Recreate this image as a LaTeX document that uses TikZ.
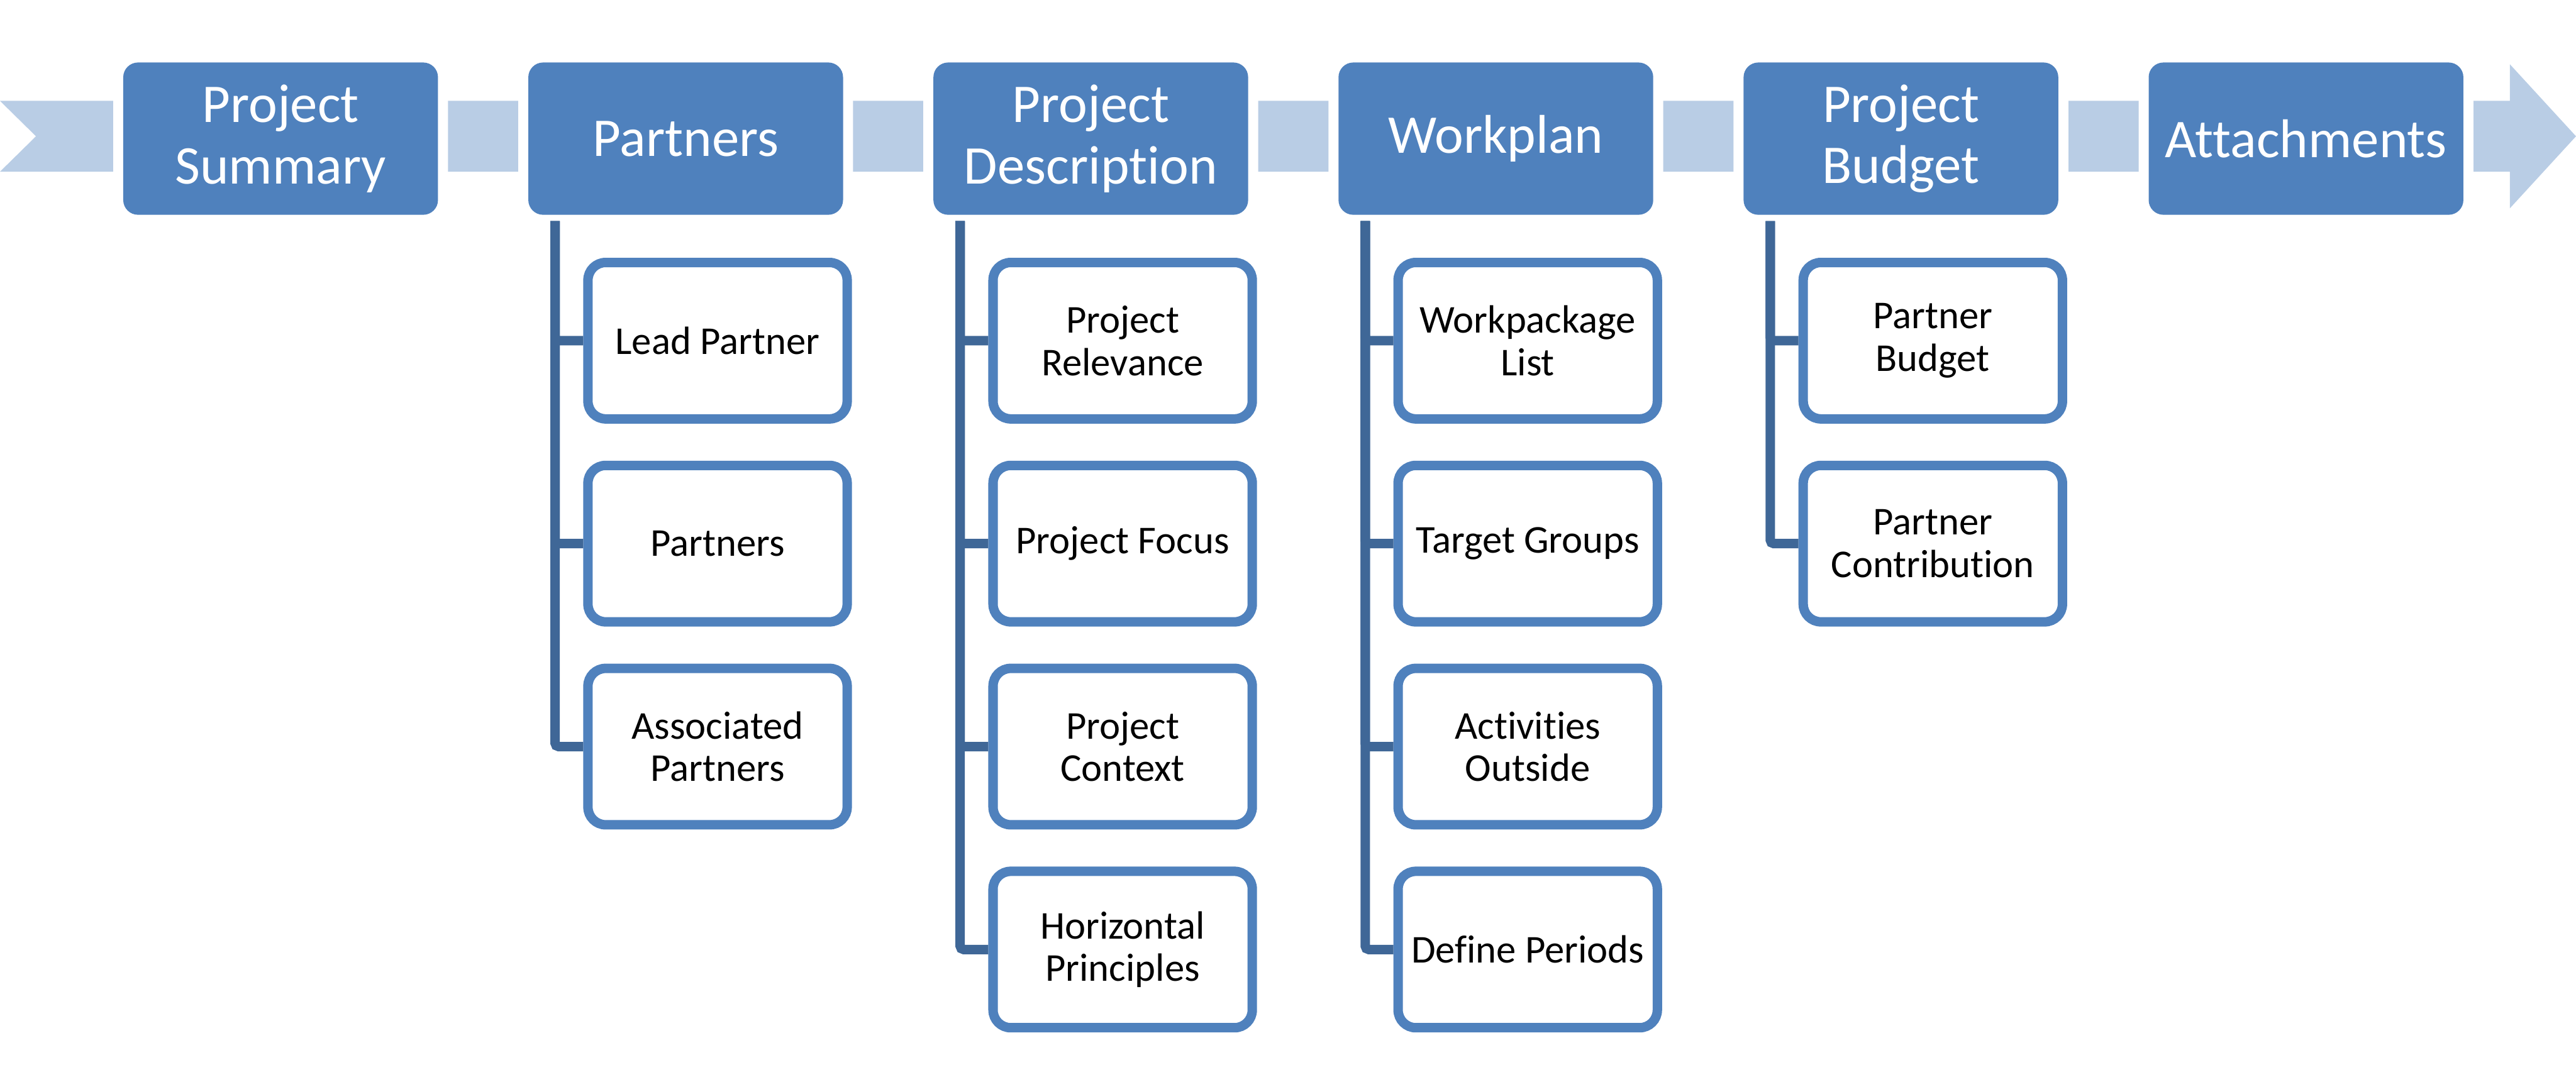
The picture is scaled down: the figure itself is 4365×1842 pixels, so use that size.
\documentclass[tikz,border=0pt]{standalone}
\usepackage{fontspec}
\setmainfont[Ligatures=NoCommon]{Carlito}
\usetikzlibrary{calc}
\definecolor{boxblue}{HTML}{4F81BD}
\definecolor{bandblue}{HTML}{B9CDE5}
\definecolor{linkblue}{HTML}{3F6797}
\begin{document}
\begin{tikzpicture}[x=0.01cm,y=-0.01cm,
  topbox/.style={rounded corners=0.25cm, fill=boxblue, text=white, minimum width=5.33cm, minimum height=2.58cm, inner sep=0pt, align=center, font=\fontsize{26.3pt}{29.5pt}\selectfont, preaction={draw=white, line width=0.34cm}},
  subbox/.style={rounded corners=0.3cm, draw=boxblue, line width=0.16cm, fill=white, minimum width=4.39cm, minimum height=2.65cm, inner sep=0pt, align=center, font=\fontsize{19pt}{20.5pt}\selectfont},
  link/.style={draw=linkblue, line width=0.16cm, rounded corners=0.06cm}
]
\useasboundingbox (0,0) rectangle (4365,1842);
% band arrow
\fill[bandblue] (0,171) -- (4253,171) -- (4253,109) -- (4365,231) -- (4253,353) -- (4253,291) -- (0,291) -- (61,231) -- cycle;
% top boxes
\node[topbox] (ps) at (475.5,235) {Project\\Summary};
\node[topbox] (pa) at (1161.9,235) {Partners};
\node[topbox] (pd) at (1848.3,235) {Project\\Description};
\node[topbox] (wp) at (2534.7,235) {Workplan};
\node[topbox] (pb) at (3221.1,235) {Project\\Budget};
\node[topbox] (at) at (3907.5,235) {Attachments};
% sub boxes
\node[subbox] (pa1) at (1215.9,577.5) {Lead Partner};
\node[subbox] (pa2) at (1215.9,921.5) {Partners};
\node[subbox] (pa3) at (1215.9,1265.5) {Associated\\Partners};
\node[subbox] (pd1) at (1902.3,577.5) {Project\\Relevance};
\node[subbox] (pd2) at (1902.3,921.5) {Project Focus};
\node[subbox] (pd3) at (1902.3,1265.5) {Project\\Context};
\node[subbox] (pd4) at (1902.3,1609.5) {Horizontal\\Principles};
\node[subbox] (wp1) at (2588.7,577.5) {Workpackage\\List};
\node[subbox] (wp2) at (2588.7,921.5) {Target Groups};
\node[subbox] (wp3) at (2588.7,1265.5) {Activities\\Outside};
\node[subbox] (wp4) at (2588.7,1609.5) {Define Periods};
\node[subbox] (pb1) at (3275.1,577.5) {Partner\\Budget};
\node[subbox] (pb2) at (3275.1,921.5) {Partner\\Contribution};
% connectors
\coordinate (pa0) at ($(pa.south west)+(46,10)$);
\coordinate (pd0) at ($(pd.south west)+(46,10)$);
\coordinate (wp0) at ($(wp.south west)+(46,10)$);
\coordinate (pb0) at ($(pb.south west)+(46,10)$);
\foreach \c/\n in {pa/3,pd/4,wp/4,pb/2}{
  \foreach \i in {1,...,\n}{
    \draw[link] (\c0) |- (\c\i.west);
  }
}
\end{tikzpicture}
\end{document}
